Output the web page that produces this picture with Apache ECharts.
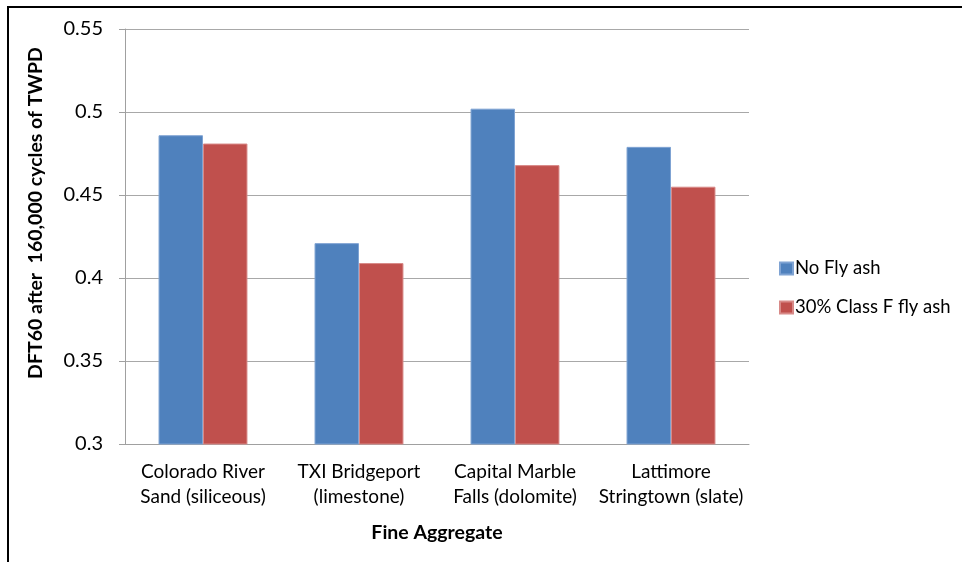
<!DOCTYPE html>
<html lang="en">
<head>
    <meta charset="UTF-8">
    <title>DFT60 after 160,000 cycles</title>
    <script src="https://cdn.jsdelivr.net/npm/echarts@6/dist/echarts.min.js"></script>
    <style>
        html, body { margin: 0; padding: 0; background: #fff; }
    </style>
</head>
<body>
    <div id="main" style="width:962px; height:562px"></div>
    <script type="text/javascript">
        // data
        var categories = [
            'Colorado River\nSand (siliceous)',
            'TXI Bridgeport\n(limestone)',
            'Capital Marble\nFalls (dolomite)',
            'Lattimore\nStringtown (slate)'
        ];
        var seriesNames = ['No Fly ash', '30% Class F fly ash'];
        var noFlyAsh = [0.486, 0.421, 0.502, 0.479];
        var classFFlyAsh = [0.481, 0.409, 0.468, 0.455];

        var yTicks = { min: 0.3, max: 0.55, interval: 0.05 };

        var font = 'Lato, "Open Sans", sans-serif';
        var chart = echarts.init(document.getElementById('main'));

        var option = {
            backgroundColor: '#fff',
            animation: false,
            textStyle: { fontFamily: font, color: '#000' },
            grid: { left: 125, right: 213, top: 29, bottom: 118 },
            graphic: [
                // outer frame of the original figure
                {
                    type: 'polyline',
                    shape: { points: [[8, 562], [8, 7], [962, 7]] },
                    style: { stroke: '#000', lineWidth: 2, fill: null }
                },
                {
                    type: 'text',
                    x: 36, y: 213,
                    rotation: Math.PI / 2,
                    style: {
                        text: 'DFT60 after  160,000 cycles of TWPD',
                        font: 'bold 19.5px ' + font,
                        fill: '#000',
                        align: 'center',
                        verticalAlign: 'middle'
                    }
                }
            ],
            legend: {
                orient: 'vertical',
                left: 779,
                top: 259,
                padding: 0,
                itemWidth: 13,
                itemHeight: 12,
                itemGap: 20,
                icon: 'rect',
                textStyle: { fontSize: 18.5, fontFamily: font, color: '#000', padding: [0, 0, 0, -3] },
                data: seriesNames
            },
            xAxis: {
                type: 'category',
                data: categories,
                name: 'Fine Aggregate',
                nameLocation: 'middle',
                nameGap: 79,
                nameTextStyle: { fontSize: 19.5, fontWeight: 'bold', fontFamily: font, color: '#000' },
                axisLine: { lineStyle: { color: '#a0a0a0', width: 1 } },
                axisTick: { show: false },
                axisLabel: { fontSize: 19, lineHeight: 25, margin: 15, color: '#000', fontFamily: font, interval: 0 }
            },
            yAxis: {
                type: 'value',
                min: yTicks.min,
                max: yTicks.max,
                interval: yTicks.interval,
                axisLine: { show: true, lineStyle: { color: '#a0a0a0', width: 1 } },
                axisTick: { show: true, length: 6, lineStyle: { color: '#a0a0a0' } },
                splitLine: { lineStyle: { color: '#a8a8a8', width: 1 } },
                axisLabel: {
                    fontSize: 20,
                    margin: 22,
                    color: '#000',
                    fontFamily: font,
                    formatter: function (v) { return String(parseFloat(v.toFixed(2))); }
                }
            },
            series: [
                {
                    name: seriesNames[0],
                    type: 'bar',
                    data: noFlyAsh,
                    barGap: '0%',
                    barCategoryGap: '43%',
                    itemStyle: { color: '#4F81BD', borderColor: '#7fa3d3', borderWidth: 1 }
                },
                {
                    name: seriesNames[1],
                    type: 'bar',
                    data: classFFlyAsh,
                    itemStyle: { color: '#C0504D', borderColor: '#d88a88', borderWidth: 1 }
                }
            ]
        };

        chart.setOption(option);
    </script>
</body>
</html>
